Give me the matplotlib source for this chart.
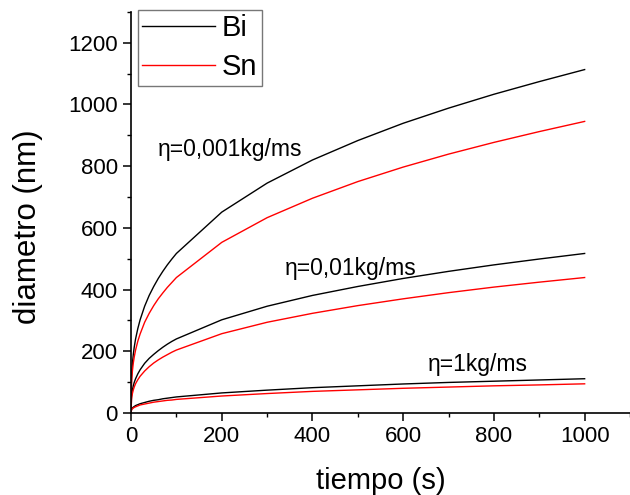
import matplotlib
matplotlib.use("Agg")
import matplotlib.pyplot as plt
from matplotlib.ticker import MultipleLocator

plt.rcParams['font.family'] = ['Liberation Sans', 'DejaVu Sans']

t = [0, 1, 2, 3, 5, 7, 10, 15, 20, 30, 40, 50, 60, 70, 80, 90, 100,
     200, 300, 400, 500, 600, 700, 800, 900, 1000]
bi_0001 = [0, 111, 140, 161, 190, 213, 240, 274, 302, 346, 381, 410, 436, 459, 480, 499, 517,
           651, 745, 820, 883, 939, 988, 1033, 1074, 1113]
sn_0001 = [0, 95, 119, 136, 162, 181, 204, 233, 256, 294, 323, 348, 370, 389, 407, 423, 439,
           553, 633, 696, 750, 797, 839, 877, 912, 945]
bi_001 = [0, 52, 65, 75, 88, 99, 111, 127, 140, 161, 177, 190, 202, 213, 223, 232, 240,
          302, 346, 381, 410, 436, 459, 480, 499, 517]
sn_001 = [0, 44, 55, 63, 75, 84, 95, 108, 119, 136, 150, 162, 172, 181, 189, 197, 204,
          257, 294, 323, 348, 370, 390, 408, 424, 439]
bi_1 = [0, 11, 14, 16, 19, 21, 24, 27, 30, 34, 38, 41, 43, 46, 48, 50, 52,
        65, 74, 82, 88, 94, 99, 103, 107, 111]
sn_1 = [0, 9.5, 12, 13.6, 16, 18, 20, 23, 26, 29, 32, 35, 37, 39, 41, 42, 44,
        55, 63, 70, 75, 80, 84, 88, 91, 94.5]

labels = ["Bi", "Sn"]
annotations = ["η=0,001kg/ms", "η=0,01kg/ms", "η=1kg/ms"]

fig = plt.figure(figsize=(6.3, 4.95), dpi=100)
ax = fig.add_axes([0.208, 0.1657, 0.792, 0.8103])

lw = 1.0
l1, = ax.plot(t, bi_0001, color='black', lw=lw, label=labels[0])
l2, = ax.plot(t, sn_0001, color='red', lw=lw, label=labels[1])
ax.plot(t, bi_001, color='black', lw=lw)
ax.plot(t, sn_001, color='red', lw=lw)
ax.plot(t, bi_1, color='black', lw=lw)
ax.plot(t, sn_1, color='red', lw=lw)

ax.set_xlim(0, 1100)
ax.set_ylim(0, 1300)
ax.xaxis.set_major_locator(MultipleLocator(200))
ax.xaxis.set_minor_locator(MultipleLocator(100))
ax.yaxis.set_major_locator(MultipleLocator(200))
ax.yaxis.set_minor_locator(MultipleLocator(100))
ax.set_xticks([0, 200, 400, 600, 800, 1000])

for s in ['top', 'right']:
    ax.spines[s].set_visible(False)
for s in ['left', 'bottom']:
    ax.spines[s].set_linewidth(1.2)

ax.tick_params(which='major', direction='out', length=6, width=1.1, labelsize=16)
ax.tick_params(which='minor', direction='out', length=3, width=1.0)

ax.set_xlabel("tiempo (s)", fontsize=21, labelpad=14)
ax.set_ylabel("diametro (nm)", fontsize=22.5)
ax.yaxis.set_label_coords(-0.176, 0.465)

ax.text(60, 855, annotations[0], fontsize=16.5, va='center', ha='left')
ax.text(340, 467, annotations[1], fontsize=16.5, va='center', ha='left')
ax.text(655, 158, annotations[2], fontsize=16.5, va='center', ha='left')

leg = ax.legend(handles=[l1, l2], loc='upper left', bbox_to_anchor=(0.014, 1.005),
                fontsize=21, frameon=True, fancybox=False, edgecolor='#555555',
                handlelength=2.5, handletextpad=0.22, borderpad=0.15, labelspacing=0.38,
                borderaxespad=0.0)
leg.get_frame().set_linewidth(1.0)

fig.savefig("out.png", dpi=100)
